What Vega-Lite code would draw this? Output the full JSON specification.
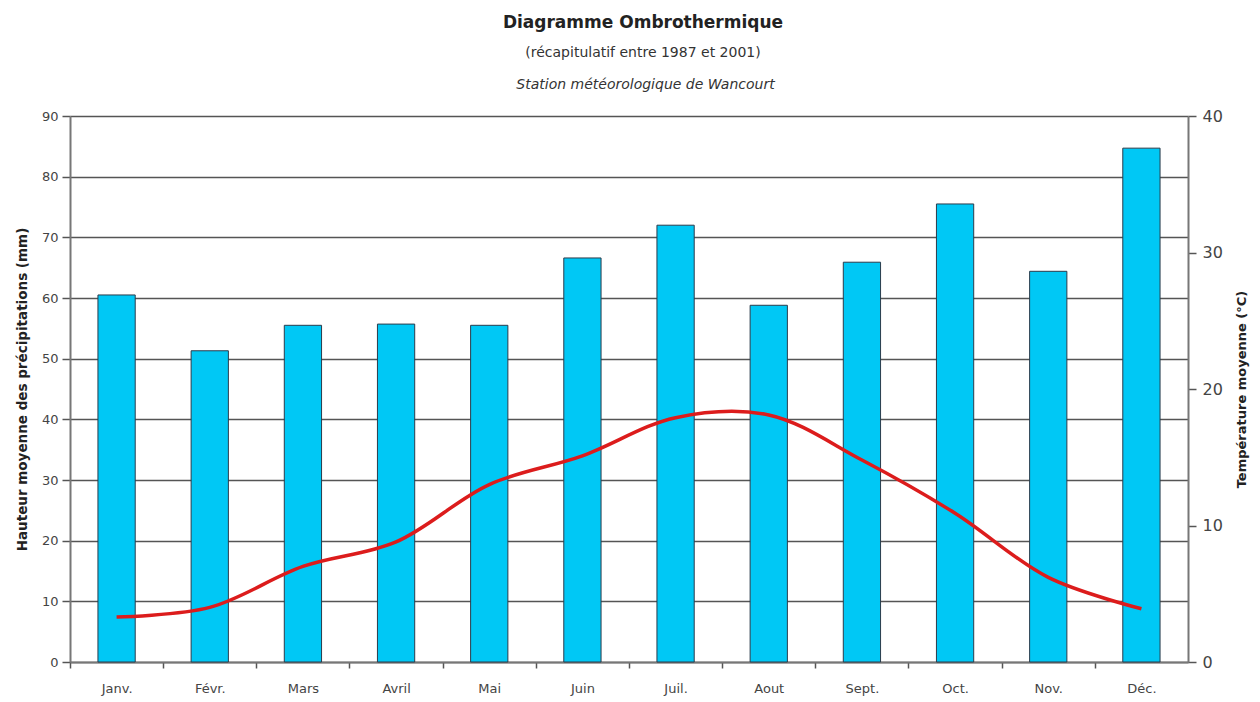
{
  "$schema": "https://vega.github.io/schema/vega-lite/v6.json",
  "width": 1118,
  "height": 546,
  "autosize": {"type": "none"},
  "padding": {"left": 70, "top": 116, "right": 72, "bottom": 40},
  "background": "white",
  "title": {
    "text": "Diagramme Ombrothermique",
    "subtitle": "(récapitulatif entre 1987 et 2001)",
    "font": "DejaVu Sans",
    "fontSize": 17,
    "fontWeight": "bold",
    "color": "#222",
    "subtitleFont": "DejaVu Sans",
    "subtitleFontSize": 14,
    "subtitleColor": "#333",
    "subtitlePadding": 14,
    "anchor": "middle",
    "dx": 14,
    "offset": 16
  },
  "data": {
    "values": [
      {"mois": "Janv.", "precip": 60.5, "temp": 3.3},
      {"mois": "Févr.", "precip": 51.3, "temp": 4.0},
      {"mois": "Mars", "precip": 55.5, "temp": 7.0},
      {"mois": "Avril", "precip": 55.7, "temp": 8.8},
      {"mois": "Mai", "precip": 55.5, "temp": 13.0},
      {"mois": "Juin", "precip": 66.6, "temp": 15.1},
      {"mois": "Juil.", "precip": 72.0, "temp": 17.9},
      {"mois": "Aout", "precip": 58.8, "temp": 18.1},
      {"mois": "Sept.", "precip": 65.9, "temp": 14.8},
      {"mois": "Oct.", "precip": 75.5, "temp": 10.9},
      {"mois": "Nov.", "precip": 64.4, "temp": 6.2},
      {"mois": "Déc.", "precip": 84.7, "temp": 3.9}
    ]
  },
  "config": {
    "view": {"stroke": null},
    "axis": {
      "labelFont": "DejaVu Sans",
      "titleFont": "DejaVu Sans",
      "labelColor": "#444",
      "titleColor": "#222",
      "domainColor": "#777",
      "domainWidth": 2,
      "tickColor": "#555",
      "tickWidth": 1.5
    }
  },
  "layer": [
    {
      "mark": {"type": "bar", "color": "#00C8F5", "stroke": "#2b3b4b", "strokeWidth": 1},
      "encoding": {
        "x": {
          "field": "mois",
          "type": "ordinal",
          "sort": null,
          "scale": {"paddingInner": 0.6, "paddingOuter": 0.3},
          "axis": {
            "orient": "bottom",
            "title": null,
            "labelAngle": 0,
            "labelFontSize": 13,
            "labelPadding": 14,
            "tickOffset": -46.6,
            "labelOffset": 46.6,
            "tickSize": 6,
            "grid": false
          }
        },
        "y": {
          "field": "precip",
          "type": "quantitative",
          "scale": {"domain": [0, 90]},
          "axis": {
            "orient": "left",
            "title": "Hauteur moyenne des précipitations (mm)",
            "titleFontSize": 13.5,
            "titleFontWeight": "bold",
            "titlePadding": 12,
            "values": [0, 10, 20, 30, 40, 50, 60, 70, 80, 90],
            "labelFontSize": 13,
            "labelPadding": 4,
            "tickSize": 8,
            "grid": true,
            "gridColor": "#555",
            "gridWidth": 1.5,
            "gridOpacity": 1
          }
        }
      }
    },
    {
      "mark": {"type": "line", "color": "#DC1C1C", "strokeWidth": 3.5, "interpolate": "catmull-rom"},
      "encoding": {
        "x": {
          "field": "mois",
          "type": "ordinal",
          "sort": null,
          "axis": {
            "orient": "top",
            "title": "Station météorologique de Wancourt",
            "titleFontStyle": "italic",
            "titleFontWeight": "normal",
            "titleFontSize": 14,
            "titleColor": "#333",
            "titlePadding": 25,
            "titleX": 575,
            "labels": false,
            "ticks": false,
            "domain": false,
            "grid": false
          }
        },
        "y": {
          "field": "temp",
          "type": "quantitative",
          "scale": {"domain": [0, 40]},
          "axis": {
            "orient": "right",
            "title": "Température moyenne (°C)",
            "titleAngle": -90,
            "titleFontSize": 13,
            "titleFontWeight": "bold",
            "titlePadding": 26,
            "values": [0, 10, 20, 30, 40],
            "labelFontSize": 16,
            "labelPadding": 6,
            "tickSize": 8,
            "grid": false
          }
        }
      }
    }
  ],
  "resolve": {"scale": {"y": "independent"}, "axis": {"y": "independent", "x": "independent"}}
}
